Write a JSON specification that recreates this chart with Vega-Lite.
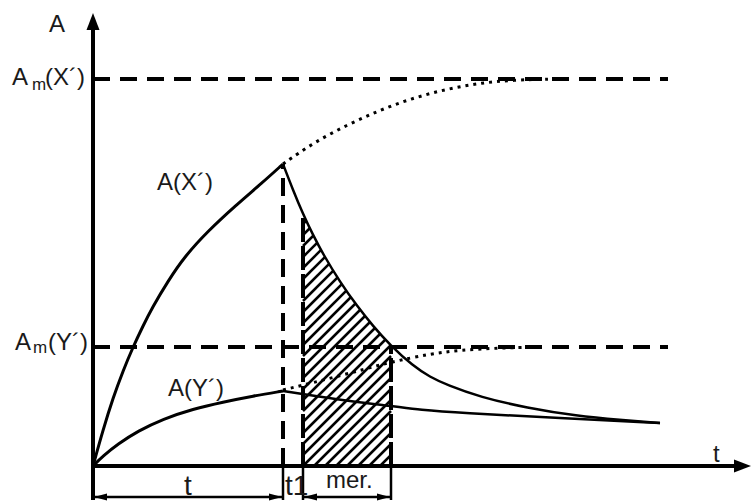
{
  "$schema": "https://vega.github.io/schema/vega-lite/v6.json",
  "autosize": {"type": "none"},
  "padding": {"left": 93, "top": 12, "right": 0, "bottom": 36},
  "width": 659,
  "height": 454,
  "background": "white",
  "config": {"view": {"stroke": null}},
  "datasets": {
    "xrise": [
      {"x": 0, "a": 0}, {"x": 10, "a": 36}, {"x": 20, "a": 68}, {"x": 30, "a": 95}, {"x": 40, "a": 119},
      {"x": 50, "a": 140}, {"x": 59, "a": 158}, {"x": 75, "a": 185}, {"x": 92, "a": 210}, {"x": 115, "a": 235},
      {"x": 142, "a": 260}, {"x": 169, "a": 283}, {"x": 190, "a": 302}
    ],
    "xdecay": [
      {"x": 190, "a": 302}, {"x": 200, "a": 276}, {"x": 210, "a": 252}, {"x": 220, "a": 231}, {"x": 230, "a": 212},
      {"x": 247, "a": 184}, {"x": 264, "a": 160}, {"x": 280, "a": 140}, {"x": 297, "a": 121}, {"x": 320, "a": 100},
      {"x": 337, "a": 89}, {"x": 354, "a": 81}, {"x": 387, "a": 69}, {"x": 434, "a": 58}, {"x": 484, "a": 50},
      {"x": 527, "a": 46}, {"x": 567, "a": 43}
    ],
    "yrise": [
      {"x": 0, "a": 0}, {"x": 10, "a": 10}, {"x": 25, "a": 22}, {"x": 45, "a": 35}, {"x": 70, "a": 47},
      {"x": 100, "a": 57}, {"x": 130, "a": 64}, {"x": 160, "a": 70}, {"x": 190, "a": 75}
    ],
    "ydecay": [
      {"x": 190, "a": 75}, {"x": 210, "a": 72}, {"x": 247, "a": 66}, {"x": 299, "a": 60}, {"x": 327, "a": 56},
      {"x": 367, "a": 53}, {"x": 467, "a": 48}, {"x": 567, "a": 43}
    ],
    "xdot": [
      {"x": 190, "a": 302}, {"x": 220, "a": 323}, {"x": 254, "a": 341}, {"x": 287, "a": 356}, {"x": 320, "a": 368},
      {"x": 354, "a": 377}, {"x": 387, "a": 383}, {"x": 420, "a": 386}, {"x": 460, "a": 387}
    ],
    "ydot": [
      {"x": 190, "a": 76}, {"x": 247, "a": 90}, {"x": 297, "a": 104}, {"x": 337, "a": 112}, {"x": 367, "a": 116},
      {"x": 407, "a": 118}, {"x": 444, "a": 119}
    ],
    "hatch": [
      {"x": 287, "a": 0, "x2": 298, "a2": 11}, {"x": 276, "a": 0, "x2": 298, "a2": 22}, {"x": 265, "a": 0, "x2": 298, "a2": 33},
      {"x": 254, "a": 0, "x2": 298, "a2": 44}, {"x": 243, "a": 0, "x2": 298, "a2": 55}, {"x": 232, "a": 0, "x2": 298, "a2": 66},
      {"x": 221, "a": 0, "x2": 298, "a2": 77}, {"x": 210, "a": 0, "x2": 298, "a2": 88},
      {"x": 210, "a": 11, "x2": 298, "a2": 99}, {"x": 210, "a": 22, "x2": 298, "a2": 110}, {"x": 210, "a": 33, "x2": 298, "a2": 121},
      {"x": 210, "a": 44, "x2": 298, "a2": 132}, {"x": 210, "a": 55, "x2": 298, "a2": 143}, {"x": 210, "a": 66, "x2": 298, "a2": 154},
      {"x": 210, "a": 77, "x2": 298, "a2": 165}, {"x": 210, "a": 88, "x2": 298, "a2": 176}, {"x": 210, "a": 99, "x2": 298, "a2": 187},
      {"x": 210, "a": 110, "x2": 298, "a2": 198}, {"x": 210, "a": 121, "x2": 298, "a2": 209}, {"x": 210, "a": 132, "x2": 298, "a2": 220},
      {"x": 210, "a": 143, "x2": 298, "a2": 231}, {"x": 210, "a": 154, "x2": 298, "a2": 242}, {"x": 210, "a": 165, "x2": 298, "a2": 253},
      {"x": 210, "a": 176, "x2": 294, "a2": 260}, {"x": 210, "a": 187, "x2": 283, "a2": 260}, {"x": 210, "a": 198, "x2": 272, "a2": 260},
      {"x": 210, "a": 209, "x2": 261, "a2": 260}, {"x": 210, "a": 220, "x2": 250, "a2": 260}, {"x": 210, "a": 231, "x2": 239, "a2": 260},
      {"x": 210, "a": 242, "x2": 228, "a2": 260}, {"x": 210, "a": 253, "x2": 217, "a2": 260}
    ],
    "hdash": [
      {"name": "Am(X')", "x": 0, "x2": 575, "a": 387},
      {"name": "Am(Y')", "x": 0, "x2": 575, "a": 119}
    ],
    "vdash": [{"x": 190, "a": 0, "a2": 302}],
    "edges": [{"x": 210, "a": 0, "a2": 252}, {"x": 298, "a": 0, "a2": 118}],
    "axes": [
      {"x": 0, "x2": 0, "a": -34, "a2": 440},
      {"x": 0, "x2": 645, "a": 0, "a2": 0}
    ],
    "ticks": [
      {"x": 190, "x2": 190, "a": 0, "a2": -34},
      {"x": 210, "x2": 210, "a": 0, "a2": -34},
      {"x": 298, "x2": 298, "a": 0, "a2": -34},
      {"x": 0, "x2": 190, "a": -31, "a2": -31},
      {"x": 210, "x2": 298, "a": -31, "a2": -31}
    ],
    "arrowup": [
      {"id": "y", "a": 436, "x": -6.5, "x2": 6.5},
      {"id": "y", "a": 453, "x": 0, "x2": 0}
    ],
    "arrowsh": [
      {"id": "xa", "x": 641, "a": -6.5, "a2": 6.5}, {"id": "xa", "x": 658, "a": 0, "a2": 0},
      {"id": "b1", "x": 176, "a": -34.5, "a2": -27.5}, {"id": "b1", "x": 189, "a": -31, "a2": -31},
      {"id": "b2", "x": 284, "a": -34.5, "a2": -27.5}, {"id": "b2", "x": 297, "a": -31, "a2": -31},
      {"id": "b3", "x": 1, "a": -31, "a2": -31}, {"id": "b3", "x": 14, "a": -34.5, "a2": -27.5},
      {"id": "b4", "x": 211, "a": -31, "a2": -31}, {"id": "b4", "x": 224, "a": -34.5, "a2": -27.5}
    ],
    "bigtext": [
      {"label": "A", "x": -44, "a": 434},
      {"label": "A", "x": -81, "a": 381},
      {"label": "(X´)", "x": -48, "a": 381},
      {"label": "A", "x": -78, "a": 116},
      {"label": "(Y´)", "x": -45, "a": 116},
      {"label": "A(X´)", "x": 64, "a": 276},
      {"label": "A(Y´)", "x": 75, "a": 70},
      {"label": "t", "x": 620, "a": 4},
      {"label": "mer.", "x": 233, "a": -22}
    ],
    "subtext": [
      {"label": "m", "x": -61, "a": 376},
      {"label": "m", "x": -60, "a": 113}
    ],
    "bottomtext": [
      {"label": "t", "x": 91, "a": -29},
      {"label": "t1", "x": 192, "a": -29}
    ]
  },
  "encoding": {
    "x": {"field": "x", "type": "quantitative", "scale": {"domain": [0, 659], "nice": false, "zero": false}, "axis": null},
    "y": {"field": "a", "type": "quantitative", "scale": {"domain": [0, 454], "nice": false, "zero": false}, "axis": null}
  },
  "layer": [
    {
      "data": {"name": "hatch"},
      "mark": {"type": "rule", "color": "black", "strokeWidth": 2.5, "strokeCap": "butt"},
      "encoding": {"x2": {"field": "x2"}, "y2": {"field": "a2"}}
    },
    {
      "data": {"name": "xdecay"},
      "transform": [{"filter": "datum.x <= 387"}],
      "mark": {"type": "area", "color": "white", "opacity": 1, "interpolate": "basis"},
      "encoding": {"y2": {"datum": 265}}
    },
    {
      "data": {"name": "hdash"},
      "mark": {"type": "rule", "color": "black", "strokeWidth": 4, "strokeDash": [17, 10]},
      "encoding": {"x2": {"field": "x2"}}
    },
    {
      "data": {"name": "vdash"},
      "mark": {"type": "rule", "color": "black", "strokeWidth": 4, "strokeDash": [18, 9]},
      "encoding": {"y2": {"field": "a2"}}
    },
    {
      "data": {"name": "edges"},
      "mark": {"type": "rule", "color": "black", "strokeWidth": 4, "strokeDash": [24, 4]},
      "encoding": {"y2": {"field": "a2"}}
    },
    {
      "data": {"name": "xrise"},
      "mark": {"type": "line", "color": "black", "strokeWidth": 3, "interpolate": "basis"}
    },
    {
      "data": {"name": "xdecay"},
      "mark": {"type": "line", "color": "black", "strokeWidth": 2.5, "interpolate": "basis"}
    },
    {
      "data": {"name": "yrise"},
      "mark": {"type": "line", "color": "black", "strokeWidth": 3, "interpolate": "basis"}
    },
    {
      "data": {"name": "ydecay"},
      "mark": {"type": "line", "color": "black", "strokeWidth": 2.5, "interpolate": "basis"}
    },
    {
      "data": {"name": "xdot"},
      "mark": {"type": "line", "color": "black", "strokeWidth": 3, "strokeDash": [3, 5], "strokeCap": "butt", "interpolate": "basis"}
    },
    {
      "data": {"name": "ydot"},
      "mark": {"type": "line", "color": "black", "strokeWidth": 3, "strokeDash": [3, 5], "strokeCap": "butt", "interpolate": "basis"}
    },
    {
      "data": {"name": "axes"},
      "mark": {"type": "rule", "color": "black", "strokeWidth": 4},
      "encoding": {"x2": {"field": "x2"}, "y2": {"field": "a2"}}
    },
    {
      "data": {"name": "ticks"},
      "mark": {"type": "rule", "color": "black", "strokeWidth": 2.5},
      "encoding": {"x2": {"field": "x2"}, "y2": {"field": "a2"}}
    },
    {
      "data": {"name": "arrowup"},
      "mark": {"type": "area", "orient": "horizontal", "color": "black", "opacity": 1, "interpolate": "linear"},
      "encoding": {"x2": {"field": "x2"}, "detail": {"field": "id"}}
    },
    {
      "data": {"name": "arrowsh"},
      "mark": {"type": "area", "orient": "vertical", "color": "black", "opacity": 1, "interpolate": "linear"},
      "encoding": {"y2": {"field": "a2"}, "detail": {"field": "id"}}
    },
    {
      "data": {"name": "bigtext"},
      "mark": {"type": "text", "align": "left", "baseline": "alphabetic", "font": "Liberation Sans", "fontSize": 24, "color": "#1a1a1a"},
      "encoding": {"text": {"field": "label"}}
    },
    {
      "data": {"name": "subtext"},
      "mark": {"type": "text", "align": "left", "baseline": "alphabetic", "font": "Liberation Sans", "fontSize": 17, "color": "#1a1a1a"},
      "encoding": {"text": {"field": "label"}}
    },
    {
      "data": {"name": "bottomtext"},
      "mark": {"type": "text", "align": "left", "baseline": "alphabetic", "font": "Liberation Sans", "fontSize": 28, "color": "#1a1a1a"},
      "encoding": {"text": {"field": "label"}}
    }
  ]
}
